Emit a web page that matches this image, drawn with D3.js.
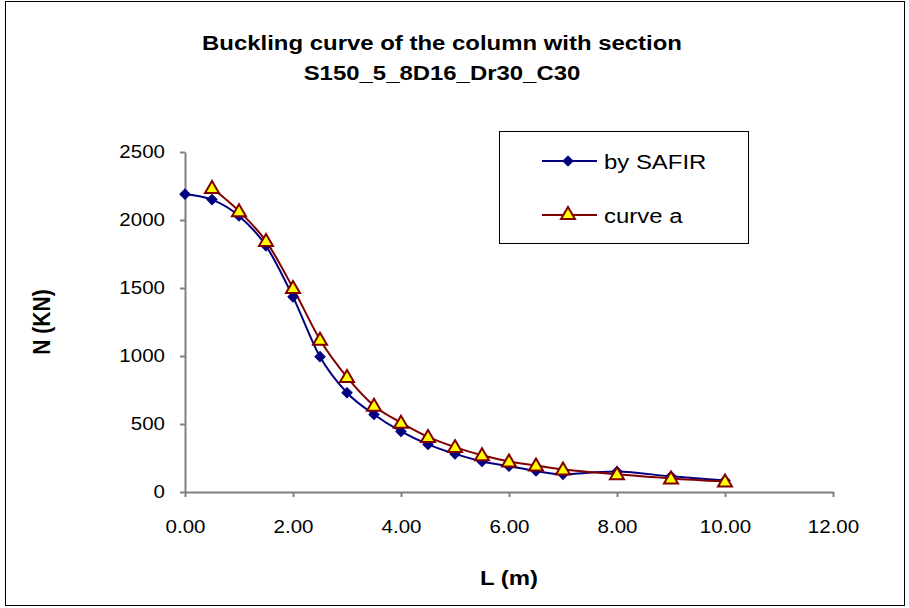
<!DOCTYPE html>
<html>
<head>
<meta charset="utf-8">
<script src="https://cdn.jsdelivr.net/npm/d3@7"></script>
<style>
  body { margin: 0; background: #fff; }
  text { font-family: Arial, "Liberation Sans", sans-serif; }
</style>
</head>
<body>
<script>
// Buckling curve data
const lengths = [0, 0.5, 1, 1.5, 2, 2.5, 3, 3.5, 4, 4.5, 5, 5.5, 6, 6.5, 7, 8, 9, 10];
const safirValues = [2190, 2150, 2030, 1810, 1435, 995, 730, 570, 445, 350, 280, 225, 190, 155, 130, 150, 115, 85];

const curveALengths = [0.5, 1, 1.5, 2, 2.5, 3, 3.5, 4, 4.5, 5, 5.5, 6, 6.5, 7, 8, 9, 10];
const curveAValues = [2235, 2065, 1845, 1500, 1120, 845, 635, 510, 405, 330, 270, 225, 195, 165, 130, 100, 78];

const xTicks = [0, 2, 4, 6, 8, 10, 12];
const yTicks = [0, 500, 1000, 1500, 2000, 2500];
const seriesNames = ['by SAFIR', 'curve a'];

const width = 909;
const height = 608;
const sx = 1.14; // the original text is drawn a bit wide

const svg = d3.select('body').append('svg')
    .attr('width', width)
    .attr('height', height);

// widen text horizontally around point cx
function stretch(sel, cx) {
    sel.attr('transform', 'translate(' + cx + ',0) scale(' + sx + ',1) translate(' + (-cx) + ',0)');
}

// outer chart border
svg.append('rect')
    .attr('x', 5.5).attr('y', 1.5)
    .attr('width', 899).attr('height', 604)
    .attr('fill', '#fff')
    .attr('stroke', '#000').attr('stroke-width', 1);

// scales
const x = d3.scaleLinear().domain([0, 12]).range([185, 833]);
const y = d3.scaleLinear().domain([0, 2500]).range([492, 152]);

// axes
const xAxis = svg.append('g')
    .attr('transform', 'translate(0,492)')
    .call(d3.axisBottom(x).tickValues(xTicks).tickFormat(d3.format('.2f')).tickSize(5).tickSizeOuter(0));
const yAxis = svg.append('g')
    .attr('transform', 'translate(185,0)')
    .call(d3.axisLeft(y).tickValues(yTicks).tickFormat(d3.format('d')).tickSize(5).tickSizeOuter(0));

[xAxis, yAxis].forEach(g => {
    g.select('.domain').attr('stroke', '#808080').attr('stroke-width', 2);
    g.selectAll('.tick line').attr('stroke', '#808080').attr('stroke-width', 2);
    g.selectAll('.tick text')
        .attr('fill', '#000')
        .style('font-size', '18px')
        .style('font-family', 'Arial, "Liberation Sans", sans-serif')
        .attr('transform', 'scale(' + sx + ',1)');
});
xAxis.selectAll('.tick text').attr('y', 41).attr('dy', 0);
yAxis.selectAll('.tick text').attr('x', -20 / sx);

// line generators (Excel smoothed line)
const line = d3.line()
    .x(d => x(d[0]))
    .y(d => y(d[1]))
    .curve(d3.curveCardinal.tension(0));

const safir = lengths.map((l, i) => [l, safirValues[i]]);
const curveA = curveALengths.map((l, i) => [l, curveAValues[i]]);

svg.append('path')
    .datum(safir)
    .attr('d', line)
    .attr('fill', 'none')
    .attr('stroke', '#000080')
    .attr('stroke-width', 2);

svg.append('path')
    .datum(curveA)
    .attr('d', line)
    .attr('fill', 'none')
    .attr('stroke', '#800000')
    .attr('stroke-width', 2);

const diamond = d3.symbol().type(d3.symbolSquare).size(52);
const triangle = 'M0,-7L7,5L-7,5Z';

svg.append('g').selectAll('path')
    .data(safir)
    .enter().append('path')
    .attr('d', diamond)
    .attr('transform', d => 'translate(' + x(d[0]) + ',' + y(d[1]) + ') rotate(45)')
    .attr('fill', '#000080')
    .attr('stroke', '#000080')
    .attr('stroke-width', 1);

svg.append('g').selectAll('path')
    .data(curveA)
    .enter().append('path')
    .attr('d', triangle)
    .attr('transform', d => 'translate(' + x(d[0]) + ',' + y(d[1]) + ')')
    .attr('fill', '#ffff00')
    .attr('stroke', '#800000')
    .attr('stroke-width', 2);

// titles
const title = svg.append('text')
    .attr('text-anchor', 'middle')
    .style('font-size', '21px')
    .style('font-weight', 'bold');
title.append('tspan').attr('x', 442).attr('y', 50).text('Buckling curve of the column with section');
title.append('tspan').attr('x', 442).attr('y', 80).text('S150_5_8D16_Dr30_C30');
stretch(title, 442);

const xLabel = svg.append('text')
    .attr('x', 509).attr('y', 585)
    .attr('text-anchor', 'middle')
    .style('font-size', '21px')
    .style('font-weight', 'bold')
    .text('L (m)');
stretch(xLabel, 509);

svg.append('text')
    .attr('transform', 'translate(50,322) scale(' + sx + ',1) rotate(-90)')
    .attr('text-anchor', 'middle')
    .style('font-size', '21px')
    .style('font-weight', 'bold')
    .text('N (KN)');

// legend
const legend = svg.append('g');
legend.append('rect')
    .attr('x', 499.5).attr('y', 131.5)
    .attr('width', 249).attr('height', 112)
    .attr('fill', '#fff')
    .attr('stroke', '#000').attr('stroke-width', 1);

const legendRows = [161, 215];
const legendColors = ['#000080', '#800000'];
seriesNames.forEach((name, i) => {
    const ly = legendRows[i];
    legend.append('line')
        .attr('x1', 542).attr('x2', 597)
        .attr('y1', ly).attr('y2', ly)
        .attr('stroke', legendColors[i]).attr('stroke-width', 2);
    if (i === 0) {
        legend.append('path')
            .attr('d', diamond)
            .attr('transform', 'translate(568,' + ly + ') rotate(45)')
            .attr('fill', '#000080').attr('stroke', '#000080');
    } else {
        legend.append('path')
            .attr('d', triangle)
            .attr('transform', 'translate(568,' + (ly - 1) + ')')
            .attr('fill', '#ffff00').attr('stroke', '#800000').attr('stroke-width', 2);
    }
    const t = legend.append('text')
        .attr('x', 604).attr('y', ly + 8)
        .style('font-size', '21px')
        .text(name);
    stretch(t, 604);
});
</script>
</body>
</html>
